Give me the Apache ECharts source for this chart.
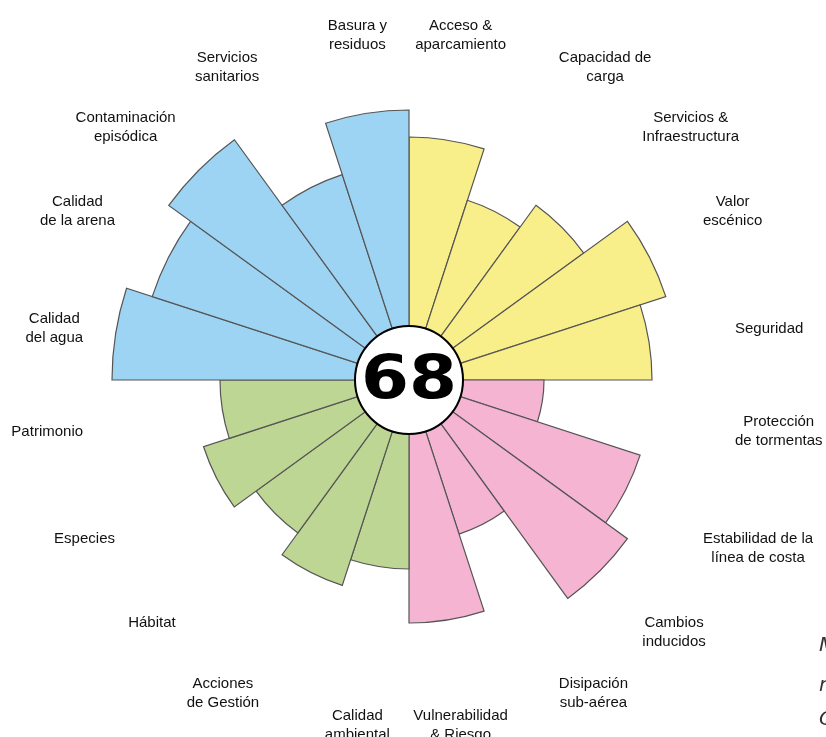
<!DOCTYPE html>
<html>
<head>
<meta charset="utf-8">
<script src="https://cdn.jsdelivr.net/npm/echarts@6/dist/echarts.min.js"></script>
<style>html,body{margin:0;padding:0;background:#fff}#c{width:826px;height:737px}</style>
</head>
<body>
<div id="c"></div>
<script>
// Categories clockwise from 12 o'clock
const categories = [
  'Acceso &\naparcamiento', 'Capacidad de\ncarga', 'Servicios &\nInfraestructura', 'Valor\nescénico', 'Seguridad',
  'Protección\nde tormentas', 'Estabilidad de la\nlínea de costa', 'Cambios\ninducidos', 'Disipación\nsub-aérea', 'Vulnerabilidad\n& Riesgo',
  'Calidad\nambiental', 'Acciones\nde Gestión', 'Hábitat', 'Especies', 'Patrimonio',
  'Calidad\ndel agua', 'Calidad\nde la arena', 'Contaminación\nepisódica', 'Servicios\nsanitarios', 'Basura y\nresiduos'
];
const values = [7, 5, 6, 8, 7, 3, 7, 8, 4, 7, 5, 6, 5, 6, 5, 9, 8, 9, 6, 8];
const groupColors = ['#F8EE8A', '#F4B4D2', '#BED693', '#9DD4F3'];
const groupSize = 5;
const centerScore = '68';
const rightEdgeText = ['Mapa', 'nivel', 'Costa'];

const CX = 409, CY = 380, R0 = 54, R1 = 324;

const chart = echarts.init(document.getElementById('c'), null, {renderer: 'canvas'});
const edgeTextStyle = { fontFamily: 'DejaVu Sans', fontStyle: 'italic', fontWeight: 200, fontSize: 20, fill: '#333', verticalAlign: 'middle' };
const option = {
  animation: false,
  backgroundColor: '#fff',
  polar: { center: [CX, CY], radius: [R0, R1] },
  radiusAxis: {
    type: 'value', min: 0, max: 10,
    axisLine: {show: false}, axisTick: {show: false}, axisLabel: {show: false}, splitLine: {show: false}
  },
  angleAxis: {
    type: 'category',
    data: categories,
    startAngle: 90,
    clockwise: true,
    boundaryGap: true,
    axisLine: {show: false},
    axisTick: {show: false},
    splitLine: {show: false},
    axisLabel: {
      margin: 6,
      formatter: function (v) {
        return v.split('\n').map(function (s) { return '{c|' + s + '}'; }).join('\n');
      },
      rich: {
        c: { align: 'center', fontFamily: 'Liberation Sans, Arial, sans-serif', fontSize: 15, color: '#111', lineHeight: 19 }
      }
    }
  },
  series: [{
    type: 'bar',
    coordinateSystem: 'polar',
    barCategoryGap: '0%',
    data: values.map(function (v, i) {
      return { value: v, itemStyle: { color: groupColors[Math.floor(i / groupSize)] } };
    }),
    itemStyle: { borderColor: '#555', borderWidth: 1.2 },
    z: 2
  }],
  graphic: [
    { type: 'circle', shape: {cx: CX, cy: CY, r: R0}, style: {fill: '#fff', stroke: '#000', lineWidth: 2}, z: 10 },
    { type: 'text', x: CX, y: CY + 2, scaleX: 1.15, z: 11,
      style: { text: centerScore, fontFamily: 'DejaVu Sans', fontWeight: 'bold', fontSize: 60, fill: '#000', align: 'center', verticalAlign: 'middle' } },
    { type: 'text', x: 819, y: 646, style: Object.assign({ text: rightEdgeText[0] }, edgeTextStyle) },
    { type: 'text', x: 819, y: 686, style: Object.assign({ text: rightEdgeText[1] }, edgeTextStyle) },
    { type: 'text', x: 819, y: 720, style: Object.assign({ text: rightEdgeText[2] }, edgeTextStyle) }
  ]
};
chart.setOption(option);
</script>
</body>
</html>
